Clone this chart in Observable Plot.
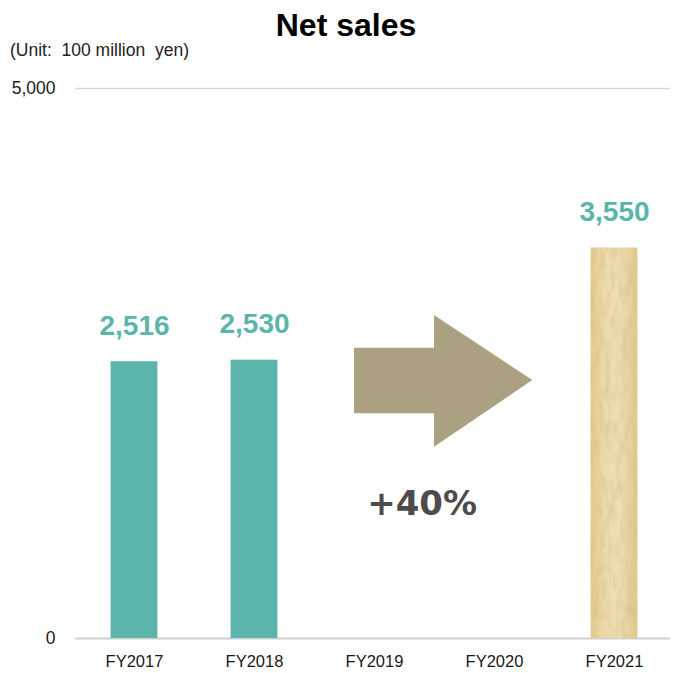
<!DOCTYPE html>
<html>
<head>
<meta charset="utf-8">
<script src="https://cdn.jsdelivr.net/npm/d3@7"></script>
<script src="https://cdn.jsdelivr.net/npm/@observablehq/plot@0.6"></script>
<style>
  html, body { margin: 0; padding: 0; background: #fff; }
  #wrap { position: relative; width: 673px; height: 673px; overflow: hidden; }
  #title { position: absolute; left: 346px; top: 9px; transform: translateX(-50%);
    font: bold 32px "Liberation Sans", Arial, sans-serif; line-height: 32px; color: #000; white-space: nowrap; }
  #unit { position: absolute; left: 10px; top: 40px; font: 17.5px "Liberation Sans", Arial, sans-serif;
    line-height: 20px; color: #222; white-space: pre; }
  #chart { position: absolute; left: 0; top: 0; }
</style>
</head>
<body>
<div id="wrap">
  <div id="chart"></div>
  <div id="title">Net sales</div>
  <div id="unit">(Unit:  100 million  yen)</div>
</div>
<script>
// ---- data ----
const categories = ["FY2017", "FY2018", "FY2019", "FY2020", "FY2021"];
const sales = [2516, 2530, null, null, 3550];
const valueLabels = ["2,516", "2,530", "", "", "3,550"];
const yTicks = [0, 5000];
const growthLabel = "+40%";
// arrow outline in data units (x: category index, y: yen value)
const arrowX = [1.833, 2.5, 2.5, 3.319];
const arrowLow = [2043, 2043, 1739, 2345];
const arrowHigh = [2639, 2639, 2936, 2345];
const growthPos = {x: 2.397, y: 1223};

const teal = "#5cb5aa";
const halfBar = 0.195;

const rows = categories.map((c, i) => ({i, cat: c, value: sales[i], label: valueLabels[i]}))
  .filter(d => d.value != null);
const tealRows = rows.filter(d => d.cat !== "FY2021");
const paperRows = rows.filter(d => d.cat === "FY2021");
const arrow = arrowX.map((x, k) => ({x, lo: arrowLow[k], hi: arrowHigh[k]}));

const defs = () => {
  const svg = d3.create("svg:defs");
  const g = svg.append("linearGradient").attr("id", "paperGrad").attr("x1", 0).attr("x2", 1).attr("y1", 0).attr("y2", 0);
  g.append("stop").attr("offset", "0%").attr("stop-color", "#e3c98e");
  g.append("stop").attr("offset", "30%").attr("stop-color", "#eedbab");
  g.append("stop").attr("offset", "60%").attr("stop-color", "#f0dfb2");
  g.append("stop").attr("offset", "100%").attr("stop-color", "#e2c78b");
  const f = svg.append("filter").attr("id", "grain").attr("x", 0).attr("y", 0).attr("width", 1).attr("height", 1);
  f.append("feTurbulence").attr("type", "fractalNoise").attr("baseFrequency", "0.18 0.05").attr("numOctaves", 3).attr("seed", 7);
  f.append("feColorMatrix").attr("type", "matrix")
    .attr("values", "0 0 0 0 0.62  0 0 0 0 0.50  0 0 0 0 0.26  1.7 0 0 0 -0.62");
  const p = svg.append("pattern").attr("id", "grainPat").attr("patternUnits", "userSpaceOnUse")
    .attr("width", 673).attr("height", 673);
  p.append("rect").attr("width", 673).attr("height", 673).attr("filter", "url(#grain)");
  return svg.node();
};

const plot = Plot.plot({
  width: 673,
  height: 673,
  marginTop: 88,
  marginBottom: 35,
  marginLeft: 75,
  marginRight: 3,
  style: {fontFamily: "'Liberation Sans', Arial, sans-serif", color: "#333", background: "transparent"},
  x: {type: "linear", domain: [-0.5, 4.5], range: [74, 674]},
  y: {domain: [0, 5000], range: [638, 88]},
  marks: [
    defs,
    Plot.ruleY([5000], {stroke: "#d9d9d9", strokeWidth: 1.5}),
    Plot.ruleY([0], {stroke: "#d0d0d0", strokeWidth: 2}),
    Plot.axisY({ticks: yTicks, tickFormat: d3.format(","), tickSize: 0, tickPadding: 20, fontSize: 17.5,
      label: null, fill: "#1a1a1a"}),
    Plot.axisX({ticks: d3.range(categories.length), tickFormat: i => categories[i], tickSize: 0, tickPadding: 17,
      fontSize: 16.5, label: null, fill: "#1a1a1a"}),
    Plot.rectY(tealRows, {x1: d => d.i - halfBar, x2: d => d.i + halfBar, y1: 0, y2: "value", fill: teal}),
    Plot.rectY(paperRows, {x1: d => d.i - halfBar, x2: d => d.i + halfBar, y1: 0, y2: "value", fill: "url(#paperGrad)"}),
    Plot.rectY(paperRows, {x1: d => d.i - halfBar, x2: d => d.i + halfBar, y1: 0, y2: "value", fill: "url(#grainPat)", fillOpacity: 0.6}),
    Plot.text(rows, {x: "i", y: "value", text: "label", dy: -36, lineAnchor: "middle", fill: teal,
      fontSize: 28, fontWeight: "bold"}),
    Plot.areaY(arrow, {x: "x", y1: "lo", y2: "hi", fill: "#aba180", curve: "linear"}),
    Plot.text([growthLabel], {x: growthPos.x, y: growthPos.y, text: d => d, lineAnchor: "middle",
      fontSize: 34, fontWeight: "bold", fill: "#4f4b4b", fontFamily: "'DejaVu Sans', Verdana, sans-serif"})
  ]
});
document.getElementById("chart").appendChild(plot);
</script>
</body>
</html>
